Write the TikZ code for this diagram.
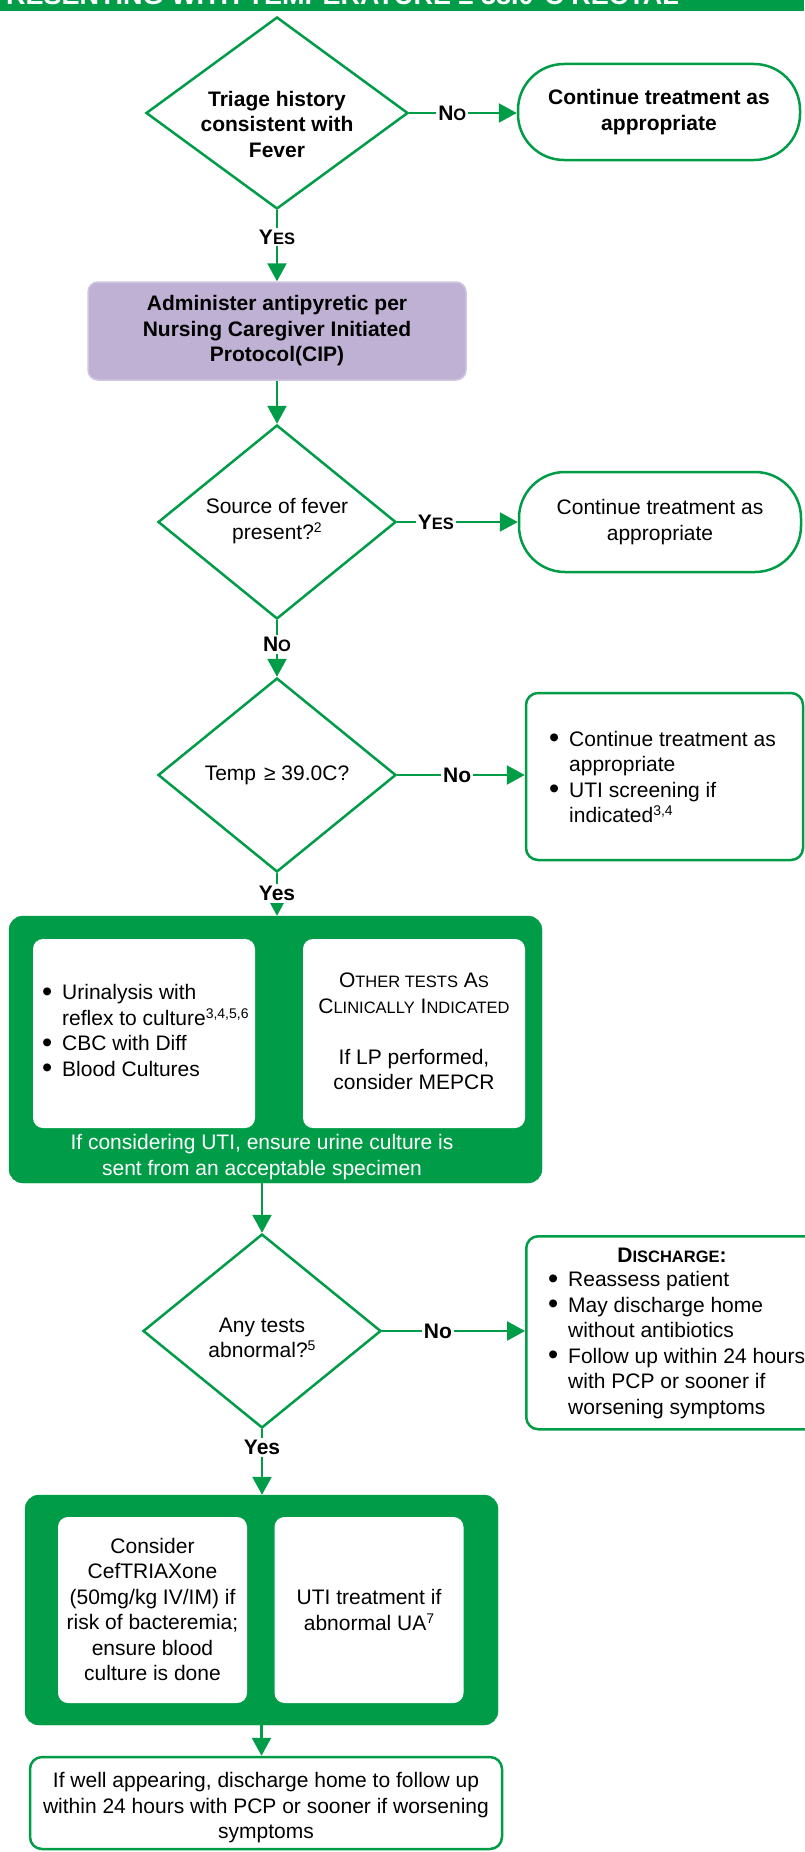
\documentclass[tikz,border=0pt]{standalone}
\usepackage{fontspec}
\setmainfont{Liberation Sans}
\usetikzlibrary{shapes.geometric,arrows.meta}
\definecolor{fgreen}{RGB}{0,156,72}
\definecolor{lav}{RGB}{191,177,211}
\definecolor{lavborder}{RGB}{207,198,224}
\newcommand\mainfs{\fontsize{21}{25.5}\selectfont}
\newcommand\supr[1]{\raisebox{7pt}{\fontsize{14}{14}\selectfont #1}}
\newcommand\mysc[1]{{\fontsize{16.5}{25.5}\selectfont #1}}
\newcommand\bulit{\makebox[20pt][l]{\raisebox{-1.5pt}{\fontsize{29}{25.5}\selectfont\textbullet}}}
\newcommand\hind{\hspace*{20pt}}
\tikzset{
  arr/.style={draw=fgreen, line width=2.5pt, -{Triangle[length=18pt,width=19pt]}},
  dia/.style={diamond, draw=fgreen, line width=2.5pt, inner sep=0pt, fill=white},
  txt/.style={inner sep=0pt, align=center, font=\mainfs},
  lbl/.style={fill=white, inner sep=2pt, font=\bfseries\fontsize{21}{21}\selectfont, text=black},
  pill/.style={draw=fgreen, line width=2.5pt, rounded corners=46pt, fill=white, align=center, font=\mainfs, inner sep=0pt},
  gbox/.style={draw=fgreen, line width=2.5pt, rounded corners=12pt, fill=white, inner sep=0pt},
  big/.style={fill=fgreen, draw=fgreen, rounded corners=14pt, inner sep=0pt},
  wbox/.style={fill=white, rounded corners=10pt, inner sep=0pt},
}
\begin{document}
\begin{tikzpicture}[x=1pt,y=-1pt]
\useasboundingbox (0,0) rectangle (804,1852);
\fill[white] (0,0) rectangle (804,1852);
% title bar
\begin{scope}
\clip (0,0) rectangle (804,11);
\fill[fgreen] (0,0) rectangle (804,11);
\node[anchor=base west, inner sep=0pt, text=white, font=\bfseries\fontsize{27}{27}\selectfont] (title) at (6,5) {RESENTING WITH TEMPERATURE ≥ 38.0°C RECTAL};
\end{scope}

% row 1
\node[dia, minimum width=262pt, minimum height=192pt] (d1) at (277,113) {};
\node[txt, font=\bfseries\mainfs] (d1t) at (277,124) {Triage history\\consistent with\\Fever};
\node[pill, font=\bfseries\mainfs, minimum width=282pt, minimum height=96pt] (p1) at (659,112) {Continue treatment as\\appropriate};

% purple
\node[draw=lavborder, fill=lav, line width=1.5pt, rounded corners=10pt, minimum width=378pt, minimum height=98pt, align=center, font=\bfseries\mainfs, inner sep=0pt] (cip) at (277,331) {Administer antipyretic per\\Nursing Caregiver Initiated\\Protocol(CIP)};

% row 2
\node[dia, minimum width=238pt, minimum height=194pt] (d2) at (277,522) {};
\node[txt] (d2t) at (277,521) {Source of fever\\present?\supr{2}};
\node[pill, minimum width=282pt, minimum height=100pt] (p2) at (660,522) {Continue treatment as\\appropriate};

% row 3
\node[dia, minimum width=238pt, minimum height=194pt] (d3) at (277,775) {};
\node[txt] (d3t) at (277,775) {Temp\hspace{8pt}≥ 39.0C?};
\node[gbox, minimum width=277pt, minimum height=167pt] (b3) at (664.5,776.5) {};
\node[txt, align=left, anchor=west] (b3t) at (549,777) {\bulit Continue treatment as\\\hind appropriate\\\bulit UTI screening if\\\hind indicated\supr{3,4}};

% green box 1
\node[big, minimum width=533pt, minimum height=267pt] (g1) at (275.5,1049.5) {};
\node[wbox, minimum width=222pt, minimum height=189pt] (g1l) at (144,1033.5) {};
\node[wbox, minimum width=222pt, minimum height=189pt] (g1r) at (414,1033.5) {};
\node[txt, align=left, anchor=west] (g1lt) at (42,1031) {\bulit Urinalysis with\\\hind reflex to culture\supr{3,4,5,6}\\\bulit CBC with Diff\\\bulit Blood Cultures};
\node[txt] (g1rt) at (414,1031.5) {O\mysc{THER TESTS} A\mysc{S}\\C\mysc{LINICALLY} I\mysc{NDICATED}\\[25.5pt]If LP performed,\\consider MEPCR};
\node[txt, text=white] (g1b) at (262,1157) {If considering UTI, ensure urine culture is\\sent from an acceptable specimen};

% row 4
\node[dia, minimum width=238pt, minimum height=194pt] (d4) at (262,1331) {};
\node[txt] (d4t) at (262,1338) {Any tests\\abnormal?\supr{5}};
\node[gbox, minimum width=300pt, minimum height=193pt, anchor=north west] (b4) at (525,1235) {};
\node[txt, font=\bfseries\mainfs] (b4h) at (672,1255) {D\mysc{ISCHARGE}:};
\node[txt, align=left, anchor=west] (b4t) at (548,1345) {\bulit Reassess patient\\\bulit May discharge home\\\hind without antibiotics\\\bulit Follow up within 24 hours\\\hind with PCP or sooner if\\\hind worsening symptoms};

% green box 2
\node[big, minimum width=473pt, minimum height=230pt] (g2) at (261.5,1610) {};
\node[wbox, minimum width=189pt, minimum height=186pt] (g2l) at (152.5,1610) {};
\node[wbox, minimum width=189pt, minimum height=186pt] (g2r) at (369,1610) {};
\node[txt] (g2lt) at (152.5,1609.5) {Consider\\CefTRIAXone\\(50mg/kg IV/IM) if\\risk of bacteremia;\\ensure blood\\culture is done};
\node[txt] (g2rt) at (369,1610) {UTI treatment if\\abnormal UA\supr{7}};

% final
\node[gbox, minimum width=472pt, minimum height=92pt] (fin) at (266,1803) {};
\node[txt] (fint) at (266,1808) {If well appearing, discharge home to follow up\\within 24 hours with PCP or sooner if worsening\\symptoms};

% connectors
\draw[arr] (d1.east) -- node[lbl,pos=.4]{N\mysc{O}} (d1.east -| p1.west);
\draw[arr] (d1.south) -- node[lbl,pos=.375]{Y\mysc{ES}} (cip.north);
\draw[arr] (cip.south) -- (d2.north);
\draw[arr] (d2.east) -- node[lbl,pos=.32]{Y\mysc{ES}} (d2.east -| p2.west);
\draw[arr] (d2.south) -- node[lbl,pos=.43]{N\mysc{O}} (d3.north);
\draw[arr] (d3.east) -- node[lbl,pos=.47]{No} (d3.east -| b3.west);
\draw[arr] (d3.south) -- node[lbl,pos=.48]{Yes} (d3.south |- g1.north);
\draw[arr] (d4.north |- g1.south) -- (d4.north);
\draw[arr] (d4.east) -- node[lbl,pos=.39]{No} (d4.east -| b4.west);
\draw[arr] (d4.south) -- node[lbl,pos=.28]{Yes} (d4.south |- g2.north);
\draw[arr] (g2.south) -- (g2.south |- fin.north);
\end{tikzpicture}
\end{document}
